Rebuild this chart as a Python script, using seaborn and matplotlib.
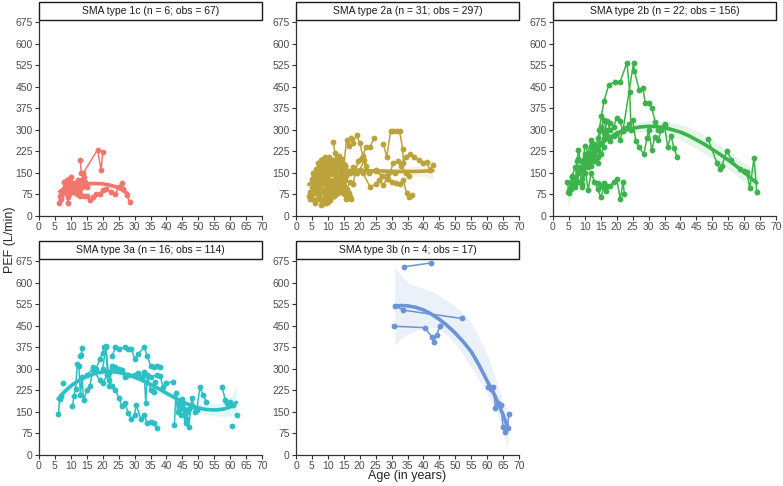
import pandas as pd
import matplotlib
matplotlib.use('Agg')
import matplotlib.pyplot as plt
import seaborn as sns
from matplotlib.patches import Rectangle

# panel titles and colours
titles = ['SMA type 1c (n = 6; obs = 67)', 'SMA type 2a (n = 31; obs = 297)',
          'SMA type 2b (n = 22; obs = 156)', 'SMA type 3a (n = 16; obs = 114)',
          'SMA type 3b (n = 4; obs = 17)']
colors = ['#F2766E', '#BBA23A', '#3CB44B', '#2CBFC4', '#6A93D8']
x_ticks = list(range(0, 71, 5))
y_ticks = list(range(0, 676, 75))

# ---- individual trajectories (one inner list per patient) ----
age_1c = [[12.9, 13.3, 13.8, 18.4, 19.5, 20.0],
          [13.0, 14.2, 15.0, 16.0, 17.0, 18.0, 19.0, 20.0, 21.0, 22.5, 24.0, 25.0, 26.0, 26.5, 27.5, 28.5],
          [6.2, 6.8, 7.5, 8.0, 8.6, 9.0, 9.5, 10.2, 11.0, 12.0, 13.0, 14.0],
          [7.0, 8.0, 9.2, 10.0, 11.0, 12.0, 12.6, 13.5, 14.5],
          [8.0, 8.8, 9.8, 10.8, 11.5, 12.3, 13.2],
          [6.5, 7.2, 8.2, 9.0, 10.5, 11.8, 12.8, 13.6, 15.0]]
pef_1c = [[194, 150, 148, 231, 159, 222],
          [75, 68, 70, 55, 65, 75, 78, 90, 95, 85, 78, 100, 115, 95, 72, 48],
          [45, 70, 80, 120, 105, 45, 130, 110, 85, 120, 95, 135],
          [60, 90, 70, 135, 100, 75, 110, 100, 120],
          [95, 125, 80, 115, 90, 125, 105],
          [70, 85, 100, 65, 95, 110, 70, 125, 100]]

age_2a = [[4.0, 4.5, 5.0, 5.5, 6.0, 6.5, 7.0, 7.5, 8.0, 8.5],
          [5.0, 5.5, 6.0, 6.5, 7.0, 7.5, 8.0, 8.5, 9.0, 9.5, 10.0],
          [6.0, 6.6, 7.2, 7.8, 8.4, 9.0, 9.6, 10.2, 10.8, 11.4],
          [7.0, 7.5, 8.0, 8.5, 9.0, 9.5, 10.0, 10.5, 11.0, 11.5, 12.0],
          [8.0, 8.5, 9.0, 9.5, 10.0, 10.5, 11.0, 11.5, 12.0, 12.5],
          [9.0, 9.5, 10.0, 10.5, 11.0, 11.5, 12.0, 12.5, 13.0, 13.5, 14.0],
          [10.0, 10.5, 11.0, 11.5, 12.0, 12.5, 13.0, 13.5, 14.0, 14.5, 15.0],
          [11.0, 11.5, 12.0, 12.5, 13.0, 13.5, 14.0, 14.5, 15.0, 15.5],
          [12.0, 12.6, 13.2, 13.8, 14.4, 15.0, 15.6, 16.2, 16.8, 17.2],
          [5.0, 5.4, 5.8, 6.2, 6.6, 7.0, 7.4, 7.8, 8.2, 8.6, 9.0],
          [4.5, 5.0, 5.5, 6.0, 6.5, 7.0, 7.5, 8.0, 8.5, 9.0],
          [8.0, 8.4, 8.8, 9.2, 9.6, 10.0, 10.4, 10.8, 11.2, 11.6, 12.0],
          [10.0, 10.4, 10.8, 11.2, 11.6, 12.0, 12.4, 12.8, 13.2, 13.6],
          [11.7, 12.2, 12.7, 13.2, 13.7, 14.2, 14.7, 15.2, 15.7, 16.2],
          [13.0, 13.5, 14.0, 14.5, 15.0, 15.5, 16.0, 16.5, 17.0],
          [6.0, 6.5, 7.0, 7.5, 8.0, 8.5, 9.0, 9.5, 10.0],
          [9.5, 10.0, 10.5, 11.0, 11.5, 12.0, 12.5, 13.0],
          [15.0, 15.9, 16.5, 17.2, 18.0, 19.0, 20.0, 21.0, 22.0, 23.2, 24.6],
          [14.0, 15.5, 17.0, 18.0, 19.0, 20.0, 21.5, 23.0, 25.0, 27.0, 29.0, 31.0],
          [27.4, 28.5, 29.7, 30.6, 31.8, 32.5, 33.5, 33.7, 34.5, 35.8, 37.0, 38.5, 40.0, 41.0, 42.0, 42.9],
          [21.0, 23.2, 25.0, 26.0, 27.4, 28.5, 30.0, 31.5, 32.5, 33.7, 34.7, 35.6, 36.3],
          [16.0, 17.0, 18.0, 18.5, 19.5, 20.5, 22.0],
          [25.0, 27.0, 29.0, 30.5, 32.0, 33.0, 34.5, 35.5]]
pef_2a = [[70, 85, 60, 95, 110, 80, 120, 100, 135, 115],
          [100, 130, 115, 150, 140, 160, 125, 170, 155, 180, 165],
          [45, 60, 75, 55, 90, 70, 100, 85, 110, 95],
          [150, 175, 160, 190, 170, 200, 185, 205, 180, 195, 170],
          [40, 55, 45, 70, 60, 85, 75, 95, 80, 105],
          [120, 140, 130, 155, 145, 165, 150, 175, 160, 185, 170],
          [90, 110, 95, 125, 105, 135, 115, 140, 120, 130, 100],
          [150, 175, 165, 190, 170, 210, 185, 200, 160, 175],
          [70, 90, 80, 100, 85, 75, 60, 70, 65, 60],
          [130, 150, 140, 165, 160, 185, 170, 195, 180, 200, 190],
          [60, 75, 90, 80, 105, 95, 120, 110, 140, 125],
          [170, 190, 175, 205, 195, 185, 200, 175, 190, 165, 180],
          [50, 65, 55, 80, 70, 90, 75, 100, 85, 95],
          [259, 220, 200, 180, 160, 150, 170, 155, 140, 150],
          [120, 140, 110, 135, 100, 125, 90, 80, 65],
          [140, 120, 155, 130, 165, 145, 110, 150, 120],
          [45, 80, 60, 100, 70, 110, 130, 115],
          [180, 264, 245, 270, 255, 282, 253, 210, 240, 241, 272],
          [165, 175, 150, 170, 150, 160, 195, 150, 155, 140, 145, 150],
          [251, 206, 296, 296, 296, 296, 232, 183, 205, 216, 205, 195, 183, 189, 160, 178],
          [150, 102, 110, 125, 108, 130, 120, 115, 110, 125, 79, 67, 73],
          [95, 120, 110, 150, 190, 200, 175],
          [160, 140, 130, 185, 190, 175, 150, 140]]

age_2b = [[14.5, 15.2, 16.0, 17.5, 19.4, 21.1, 23.2, 24.1, 24.5],
          [22.0, 25.3, 25.5, 27.1, 28.2, 29.0, 30.0, 31.0, 32.1, 33.0, 35.0],
          [24.0, 25.0, 26.0, 27.0, 28.5, 29.5, 30.0, 31.0, 32.0, 33.0, 34.0, 35.0, 36.0, 37.0, 38.0, 39.0],
          [48.7, 51.5, 52.3, 53.0, 54.6, 56.0, 58.7, 59.8, 60.8, 61.8, 63.1, 64.0],
          [14.0, 15.0, 15.9, 16.7, 18.0, 19.0, 20.0, 21.1, 22.0, 22.4],
          [4.5, 5.0, 5.5, 6.0, 7.0, 7.5, 8.0, 9.0, 10.0, 11.0, 12.0],
          [5.0, 6.0, 7.0, 8.0, 9.0, 10.0, 11.0, 12.0, 13.0, 14.0, 15.0],
          [7.0, 8.0, 9.0, 10.0, 11.0, 12.0, 13.0, 14.0, 15.0, 16.0, 17.0, 18.0],
          [9.0, 10.0, 11.0, 12.0, 13.0, 14.0, 15.0, 16.0, 17.0],
          [12.0, 13.0, 14.0, 15.0, 16.0, 17.0, 18.0, 19.0, 20.0, 21.0, 22.0, 23.0],
          [8.0, 9.0, 10.0, 11.0, 12.0, 13.0, 14.0, 15.0, 16.0],
          [15.0, 16.0, 17.0, 18.0, 19.0, 20.0, 21.0, 22.0]]
pef_2b = [[300, 348, 400, 456, 467, 467, 534, 430, 300],
          [300, 534, 506, 438, 444, 392, 392, 375, 328, 300, 320],
          [320, 335, 260, 240, 215, 270, 300, 230, 275, 265, 300, 315, 240, 280, 235, 205],
          [267, 183, 163, 175, 226, 195, 163, 158, 154, 97, 201, 82],
          [115, 105, 114, 88, 105, 120, 130, 58, 119, 75],
          [120, 80, 95, 135, 110, 190, 230, 165, 200, 170, 240],
          [90, 140, 170, 120, 100, 150, 210, 175, 230, 205, 250],
          [100, 170, 130, 245, 220, 265, 190, 270, 310, 290, 330, 300],
          [110, 175, 90, 150, 120, 95, 65, 100, 105],
          [210, 250, 230, 300, 335, 280, 325, 310, 340, 330, 295, 305],
          [200, 190, 215, 180, 200, 225, 185, 215, 240],
          [255, 270, 300, 260, 280, 290, 265, 300]]

age_3a = [[6.1, 6.5, 7.0],
          [7.6],
          [12.8, 13.3, 13.5],
          [10.5, 11.0, 11.5, 12.0, 12.5, 13.0, 13.5, 14.0, 15.0, 16.0, 17.0, 18.0, 19.0, 20.0, 20.5, 21.0, 21.5],
          [20.0, 21.0, 22.0, 23.0, 24.0, 25.0, 26.0, 27.0, 28.0, 29.0, 30.0, 30.5, 32.0, 33.0, 34.0, 35.0, 36.0, 37.0],
          [23.0, 24.0, 25.0, 27.0, 28.0, 29.0, 30.0, 31.0, 33.0, 34.0, 35.0, 36.0, 37.0, 38.0],
          [22.0, 23.0, 24.0, 25.0, 26.0, 27.0, 28.0, 30.0, 31.0, 32.0, 33.0, 34.0, 35.0, 37.0, 38.0, 39.0, 40.0, 42.0],
          [15.0, 17.0, 19.0, 20.0, 22.0, 23.0],
          [33.0, 33.5, 34.0, 35.0, 36.0, 36.5],
          [42.5, 43.0, 43.5, 44.0, 44.5, 45.0, 45.5, 46.0, 46.5, 47.0, 48.0, 49.0],
          [45.0, 46.0, 47.0, 48.0, 49.5, 50.5, 51.5, 52.5],
          [57.5, 58.5, 59.0, 60.0, 61.0],
          [60.5],
          [62.0]]
pef_3a = [[142, 195, 205],
          [252],
          [345, 347, 374],
          [170, 205, 230, 315, 310, 210, 270, 190, 225, 240, 305, 300, 335, 355, 375, 378, 280],
          [300, 375, 260, 240, 225, 200, 170, 180, 145, 125, 140, 175, 125, 140, 110, 115, 110, 95],
          [345, 375, 370, 375, 370, 370, 335, 350, 375, 345, 310, 305, 310, 305],
          [240, 310, 305, 300, 295, 270, 280, 280, 285, 270, 285, 280, 270, 280, 275, 235, 250, 255],
          [280, 300, 260, 250, 290, 300],
          [290, 180, 280, 225, 220, 255],
          [105, 215, 150, 180, 140, 195, 160, 125, 150, 98, 200, 150],
          [170, 110, 160, 170, 155, 235, 210, 185],
          [235, 190, 180, 185, 175],
          [100],
          [138]]

age_3b = [[33.9, 42.3],
          [30.8, 40.5, 42.6, 43.2, 44.2, 45.2],
          [31.1, 33.7, 52.0],
          [60.2, 61.2, 61.9, 62.6, 63.5, 64.3, 65.0, 65.7, 66.4, 66.8]]
pef_3b = [[655, 668],
          [448, 443, 411, 394, 419, 449],
          [519, 504, 475],
          [237, 228, 238, 165, 180, 175, 98, 80, 93, 142]]

# ---- fitted mean curves with confidence bands ----
fit_age_1c = [6.5, 8, 10, 12, 14, 16, 18, 20, 22, 24, 26, 28]
fit_pef_1c = [85, 95, 103, 108, 111, 113, 113, 112, 108, 102, 92, 76]
fit_lo_1c = [70, 84, 95, 101, 104, 106, 106, 104, 99, 91, 79, 58]
fit_hi_1c = [100, 106, 111, 115, 118, 120, 120, 120, 117, 113, 105, 94]

fit_age_2a = [4, 6, 8, 10, 12, 14, 16, 18, 20, 22, 25, 28, 31, 34, 37, 40, 43]
fit_pef_2a = [110, 125, 137, 146, 152, 156, 158, 159, 159, 158, 157, 156, 155, 155, 155, 156, 158]
fit_lo_2a = [90, 112, 128, 139, 146, 150, 152, 153, 152, 150, 148, 146, 144, 142, 140, 137, 130]
fit_hi_2a = [130, 138, 146, 153, 158, 162, 164, 165, 166, 166, 166, 166, 167, 168, 172, 180, 200]

fit_age_2b = [4.5, 7.5, 10, 12.5, 15, 17.5, 20, 22.5, 25, 27.5, 30, 32.5, 35, 37.5, 40, 42.5,
              45, 47.5, 50, 52.5, 55, 57.5, 60, 62.5, 64]
fit_pef_2b = [80, 135, 180, 218, 250, 272, 288, 298, 305, 310, 312, 311, 307, 300, 292, 280,
              265, 250, 232, 214, 195, 174, 152, 128, 115]
fit_lo_2b = [35, 110, 163, 206, 240, 262, 277, 285, 290, 292, 292, 290, 285, 276, 265, 250,
             234, 217, 200, 182, 163, 142, 118, 88, 65]
fit_hi_2b = [125, 160, 197, 230, 260, 282, 299, 311, 320, 328, 332, 332, 329, 324, 319, 310,
             296, 283, 264, 246, 227, 206, 186, 168, 165]

fit_age_3a = [6, 8, 10, 12, 14, 16, 18, 20, 22, 24, 26, 28, 30, 32, 34, 36, 38, 40, 42, 44,
              46, 48, 50, 52, 54, 56, 58, 60, 62]
fit_pef_3a = [195, 220, 240, 256, 268, 278, 285, 289, 290, 289, 285, 279, 271, 262, 251, 240,
              228, 215, 203, 191, 180, 171, 164, 159, 157, 157, 160, 167, 183]
fit_lo_3a = [165, 200, 227, 245, 258, 268, 275, 279, 280, 278, 274, 268, 260, 250, 239, 227,
             214, 201, 189, 176, 165, 154, 146, 141, 137, 135, 134, 135, 140]
fit_hi_3a = [228, 240, 254, 267, 278, 288, 295, 299, 300, 300, 296, 290, 282, 274, 263, 253,
             242, 229, 217, 206, 195, 188, 182, 177, 177, 179, 186, 200, 240]

fit_age_3b = [31, 33, 35, 37.5, 40, 42.5, 45, 47.5, 50, 52.5, 55, 57.5, 60, 62.5, 65, 66.5]
fit_pef_3b = [519, 520, 519, 514, 505, 490, 472, 450, 424, 394, 360, 312, 258, 205, 140, 95]
fit_lo_3b = [383, 405, 420, 432, 440, 444, 435, 416, 387, 348, 305, 258, 213, 165, 80, 20]
fit_hi_3b = [655, 625, 600, 588, 580, 570, 555, 538, 518, 494, 460, 410, 350, 270, 185, 160]

ages = [age_1c, age_2a, age_2b, age_3a, age_3b]
pefs = [pef_1c, pef_2a, pef_2b, pef_3a, pef_3b]
fits = [(fit_age_1c, fit_pef_1c, fit_lo_1c, fit_hi_1c),
        (fit_age_2a, fit_pef_2a, fit_lo_2a, fit_hi_2a),
        (fit_age_2b, fit_pef_2b, fit_lo_2b, fit_hi_2b),
        (fit_age_3a, fit_pef_3a, fit_lo_3a, fit_hi_3a),
        (fit_age_3b, fit_pef_3b, fit_lo_3b, fit_hi_3b)]

sns.set_style('ticks')
plt.rcParams['font.family'] = ['Liberation Sans', 'DejaVu Sans']

W, H = 783, 486
fig = plt.figure(figsize=(W / 100, H / 100), dpi=100)

# panel pixel geometry (left, top of plotting area, bottom)
lefts = [39, 296, 553, 39, 296]
tops = [20, 20, 20, 259, 259]
bottoms = [216, 216, 216, 455, 455]
pw = 223
strip_h = 18

for i in range(5):
    rows = []
    for pid, (a, p) in enumerate(zip(ages[i], pefs[i])):
        for x, y in zip(a, p):
            rows.append({'pid': pid, 'age': x, 'pef': y})
    df = pd.DataFrame(rows)

    l, t, b = lefts[i], tops[i], bottoms[i]
    ax = fig.add_axes([l / W, (H - b) / H, pw / W, (b - t) / H])
    c = colors[i]

    fa, fp, flo, fhi = fits[i]
    ax.fill_between(fa, flo, fhi, color=c, alpha=0.13, lw=0, zorder=1)
    sns.lineplot(data=df, x='age', y='pef', units='pid', estimator=None, sort=False,
                 color=c, marker='o', markersize=4.2, markeredgewidth=0, lw=1.1,
                 ax=ax, zorder=2)
    sns.lineplot(x=fa, y=fp, color=c, lw=2.6, ax=ax, zorder=3)

    ax.set_xlim(0, 70)
    ax.set_ylim(0, 675 + 2 / 194 * 675)
    ax.set_xticks(x_ticks)
    ax.set_yticks(y_ticks)
    ax.tick_params(labelsize=7.5, colors='#333333', labelcolor='#4d4d4d',
                   length=3, width=0.8, pad=1.5)
    ax.set_xlabel('')
    ax.set_ylabel('')
    sns.despine(ax=ax)
    for s in ['left', 'bottom']:
        ax.spines[s].set_color('#333333')
        ax.spines[s].set_linewidth(0.9)

    # facet strip
    sh = strip_h / (b - t)
    ax.add_patch(Rectangle((0, 1.0), 1.0, sh, transform=ax.transAxes, clip_on=False,
                           facecolor='white', edgecolor='#1a1a1a', lw=1.0))
    ax.text(0.5, 1.0 + sh / 2, titles[i], transform=ax.transAxes, ha='center',
            va='center', fontsize=7.5, color='#1a1a1a')

fig.text(407 / W, (H - 476) / H, 'Age (in years)', ha='center', va='center', fontsize=9)
fig.text(10 / W, (H - 240) / H, 'PEF (L/min)', ha='center', va='center',
         rotation=90, fontsize=9)

fig.savefig('out.png', dpi=100)
